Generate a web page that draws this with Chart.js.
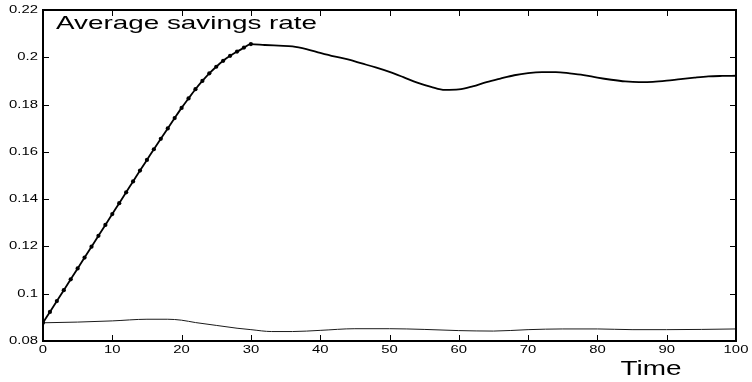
<!DOCTYPE html>
<html>
<head>
<meta charset="utf-8">
<script src="https://cdn.jsdelivr.net/npm/chart.js@4/dist/chart.umd.min.js"></script>
<style>
html,body{margin:0;padding:0;background:#fff;}
#wrap{width:752px;height:382px;}
</style>
</head>
<body>
<div id="wrap"><canvas id="c" width="752" height="382"></canvas></div>
<script>
// ---- data ----
const timeUpper = [0,1,2,3,4,5,6,7,8,9,10,11,12,13,14,15,16,17,18,19,20,21,22,23,24,25,26,27,28,29,30,
  32,34,36,38,40,42,44,46,48,50,52,54,56,58,60,62,64,66,68,70,72,74,76,78,80,82,84,86,88,90,92,94,96,98,100];
const savingsUpper = [0.0877,0.0923,0.0969,0.1015,0.1061,0.1107,0.1153,0.1199,0.1245,0.1291,0.1337,0.1383,0.1429,0.1475,0.1521,0.1566,0.1611,0.1655,0.1699,0.1743,0.1786,0.1826,0.1865,0.1900,0.1932,0.1960,0.1985,0.2006,0.2024,0.2041,0.2056,
  0.2052,0.2049,0.2046,0.2035,0.2019,0.2004,0.1991,0.1974,0.1957,0.1938,0.1916,0.1893,0.1875,0.1862,0.1864,0.1877,0.1895,0.1910,0.1924,0.1933,0.1937,0.1937,0.1932,0.1925,0.1914,0.1905,0.1898,0.1895,0.1896,0.1901,0.1908,0.1914,0.1919,0.1921,0.1922];
const timeLower = [0,5,10,15,18,20,22,25,28,30,33,36,40,45,50,55,60,65,70,75,80,85,90,95,100];
const savingsLower = [0.0877,0.0880,0.0885,0.0892,0.0892,0.0888,0.0878,0.0866,0.0854,0.0848,0.0840,0.0840,0.0845,0.0852,0.0852,0.0849,0.0844,0.0842,0.0848,0.0851,0.0851,0.0848,0.0848,0.0849,0.0851];
const xTickValues = [0,10,20,30,40,50,60,70,80,90,100];
const xTickLabels = ["0","10","20","30","40","50","60","70","80","90","100"];
const yTickValues = [0.08,0.10,0.12,0.14,0.16,0.18,0.20,0.22];
const yTickLabels = ["0.08","0.1","0.12","0.14","0.16","0.18","0.2","0.22"];
const titleText = "Average savings rate";
const xAxisTitle = "Time";
const markerEnd = 30;

const FONT = '"Liberation Sans", Arial, Helvetica, sans-serif';

function stretchedText(ctx, txt, px, py, size, align, baseline, stretch, targetWidth){
  ctx.save();
  ctx.font = size + 'px ' + FONT;
  ctx.fillStyle = '#000';
  ctx.textBaseline = baseline;
  const natural = ctx.measureText(txt).width;
  if (targetWidth) stretch = targetWidth / natural;
  const w = natural * stretch;
  let left = px;
  if (align === 'center') left = px - w/2;
  else if (align === 'right') left = px - w;
  ctx.translate(left, py);
  ctx.scale(stretch, 1);
  ctx.textAlign = 'left';
  ctx.fillText(txt, 0, 0);
  ctx.restore();
}

const framePlugin = {
  id: 'frame',
  afterDraw(chart){
    const {ctx, chartArea:a, scales} = chart;
    const xs = scales.x, ys = scales.y;
    ctx.save();
    ctx.strokeStyle = '#000';
    ctx.lineWidth = 2;
    ctx.strokeRect(a.left, a.top, a.right - a.left, a.bottom - a.top);
    ctx.lineWidth = 1;
    ctx.beginPath();
    xTickValues.forEach(v => {
      const px = Math.round(xs.getPixelForValue(v)) + 0.5;
      ctx.moveTo(px, a.bottom); ctx.lineTo(px, a.bottom - 6);
      ctx.moveTo(px, a.top); ctx.lineTo(px, a.top + 6);
    });
    yTickValues.forEach(v => {
      const py = Math.round(ys.getPixelForValue(v)) + 0.5;
      ctx.moveTo(a.left, py); ctx.lineTo(a.left + 6, py);
      ctx.moveTo(a.right, py); ctx.lineTo(a.right - 6, py);
    });
    ctx.stroke();
    ctx.restore();

    xTickValues.forEach((v,i) => {
      stretchedText(ctx, xTickLabels[i], xs.getPixelForValue(v), a.bottom + 9, 11, 'center', 'middle', 1.35);
    });
    yTickValues.forEach((v,i) => {
      stretchedText(ctx, yTickLabels[i], a.left - 5, ys.getPixelForValue(v), 11, 'right', 'middle', 1.35);
    });
    stretchedText(ctx, titleText, a.left + 13, a.top + 19, 18.5, 'left', 'alphabetic', 1, 261);
    stretchedText(ctx, xAxisTitle, a.left + 608, a.bottom + 34, 20, 'center', 'alphabetic', 1, 61);
  }
};

const upperPts = timeUpper.map((t,i) => ({x:t, y:savingsUpper[i]}));
const lowerPts = timeLower.map((t,i) => ({x:t, y:savingsLower[i]}));

new Chart(document.getElementById('c'), {
  type: 'line',
  data: {
    datasets: [
      {
        data: upperPts,
        borderColor: '#000',
        backgroundColor: '#000',
        borderWidth: 1.8,
        cubicInterpolationMode: 'monotone',
        pointRadius: ctx => (ctx.raw && ctx.raw.x <= markerEnd) ? 2.1 : 0,
        pointStyle: 'circle',
        pointBorderWidth: 0,
        pointHoverRadius: 0,
        fill: false
      },
      {
        data: lowerPts,
        borderColor: '#1a1a1a',
        borderWidth: 1,
        cubicInterpolationMode: 'monotone',
        pointRadius: 0,
        fill: false
      }
    ]
  },
  options: {
    responsive: false,
    animation: false,
    events: [],
    layout: { padding: { top: 10, right: 16, left: 0, bottom: 0 } },
    plugins: { legend: {display:false}, tooltip: {enabled:false}, title: {display:false} },
    scales: {
      x: {
        type: 'linear', min: 0, max: 100,
        ticks: { display: false, stepSize: 10 },
        grid: { display: false },
        border: { display: false },
        afterFit(s){ s.height = 41; }
      },
      y: {
        type: 'linear', min: 0.08, max: 0.22,
        ticks: { display: false, stepSize: 0.02 },
        grid: { display: false },
        border: { display: false },
        afterFit(s){ s.width = 43; }
      }
    }
  },
  plugins: [framePlugin]
});
</script>
</body>
</html>
